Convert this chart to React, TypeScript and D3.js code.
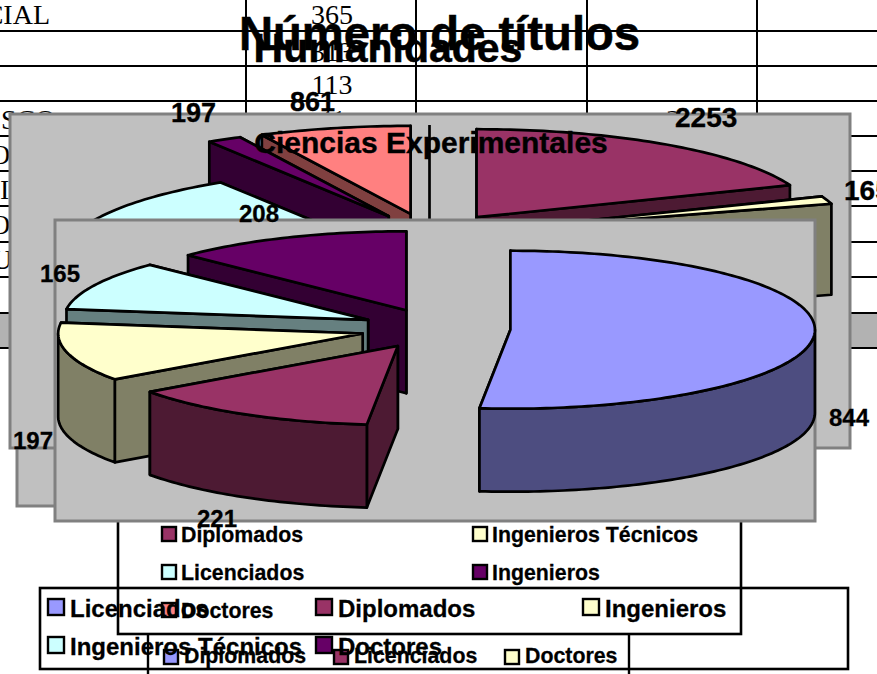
import React from "react";
import * as d3 from "d3";

// ---- data ----
const frontCategories = ["Licenciados", "Diplomados", "Ingenieros", "Ingenieros Técnicos", "Doctores"];
const frontValues = [844, 221, 197, 165, 208];
const frontColors = ["#9999FF", "#993366", "#FFFFCC", "#CCFFFF", "#660066"];

const middleCategories = ["Diplomados", "Ingenieros Técnicos", "Licenciados", "Ingenieros", "Doctores"];
const middleValues = [2253, 165, 8344, 197, 861];
const middleColors = ["#993366", "#FFFFCC", "#CCFFFF", "#660066", "#FF8080"];

const backCategories = ["Diplomados", "Licenciados", "Doctores"];
const backColors = ["#9999FF", "#993366", "#FFFFCC"];

const tableRowLines = [31, 66, 101, 136, 171, 206, 242, 277, 313, 348];
const tableColLines = [246, 416, 587, 757];
const tableNumbers = ["365", "313", "113", "41"];

const FONT = "'Liberation Sans', Arial, sans-serif";
const SERIF = "'Liberation Serif', 'Times New Roman', serif";
const TAU = Math.PI * 2;

type Geo = { cx: number; cy: number; rx: number; ry: number; depth: number; ex: number; ey: number };

const frontGeo: Geo = { cx: 435.5, cy: 328.7, rx: 304.5, ry: 79, depth: 83, ex: 75, ey: 20 };
const middleGeo: Geo = { cx: 429.5, cy: 235.8, rx: 336.5, ry: 88, depth: 91, ex: 83.5, ey: 22.5 };

function darken(c: string) {
  const r = d3.rgb(c);
  return d3.rgb(r.r / 2, r.g / 2, r.b / 2).formatHex();
}

function Pie3D({ values, colors, geo }: { values: number[]; colors: string[]; geo: Geo }) {
  const arcs = d3.pie<number>().sort(null).value((d) => d)(values);
  const line = d3.line();
  const slices = arcs
    .map((a, i) => {
      const mid = (a.startAngle + a.endAngle) / 2;
      const ax = geo.cx + geo.ex * Math.sin(mid);
      const ay = geo.cy - geo.ey * Math.cos(mid);
      const pt = (t: number, drop = 0): [number, number] => [
        ax + geo.rx * Math.sin(t),
        ay - geo.ry * Math.cos(t) + drop,
      ];
      return { a, i, ax, ay, pt };
    })
    .sort((p, q) => p.ay - q.ay);

  const stroke = { stroke: "#000", strokeWidth: 2.7, strokeLinejoin: "round" as const };

  return (
    <g>
      {slices.map(({ a, i, ax, ay, pt }) => {
        const color = colors[i];
        const dark = darken(color);
        const n = Math.max(2, Math.ceil((a.endAngle - a.startAngle) / 0.02));
        const ts = d3.range(n + 1).map((k) => a.startAngle + ((a.endAngle - a.startAngle) * k) / n);
        const top = line([[ax, ay], ...ts.map((t) => pt(t))]) + "Z";
        const wall = (t: number) =>
          line([[ax, ay], pt(t), pt(t, geo.depth), [ax, ay + geo.depth]]) + "Z";
        const radial = [a.startAngle, a.endAngle].sort((u, v) => pt(u)[1] - pt(v)[1]);
        const lo = Math.max(a.startAngle, Math.PI / 2);
        const hi = Math.min(a.endAngle, (Math.PI * 3) / 2);
        let outer: string | null = null;
        if (hi > lo) {
          const m = Math.max(2, Math.ceil((hi - lo) / 0.02));
          const os = d3.range(m + 1).map((k) => lo + ((hi - lo) * k) / m);
          outer =
            line([...os.map((t) => pt(t)), ...os.slice().reverse().map((t) => pt(t, geo.depth))]) + "Z";
        }
        return (
          <g key={i}>
            {radial.map((t, k) => (
              <path key={k} d={wall(t % TAU === 0 ? TAU : t)} fill={dark} {...stroke} />
            ))}
            {outer && <path d={outer} fill={dark} {...stroke} />}
            <path d={top} fill={color} {...stroke} />
          </g>
        );
      })}
    </g>
  );
}

function Panel({ x, y, w, h }: { x: number; y: number; w: number; h: number }) {
  return <rect x={x} y={y} width={w} height={h} fill="#C0C0C0" stroke="#808080" strokeWidth={3} />;
}

function Swatch({ x, y, s, fill }: { x: number; y: number; s: number; fill: string }) {
  return <rect x={x} y={y} width={s} height={s} fill={fill} stroke="#000" strokeWidth={2.4} />;
}

function Bold({ x, y, size, children, anchor }: any) {
  return (
    <text
      x={x}
      y={y}
      fontFamily={FONT}
      fontWeight="bold"
      fontSize={size}
      fill="#000"
      stroke="#000"
      strokeWidth={size * 0.012}
      textAnchor={anchor ?? "start"}
    >
      {children}
    </text>
  );
}

function Serif({ x, y, children, anchor }: any) {
  return (
    <text x={x} y={y} fontFamily={SERIF} fontSize={28} fill="#000" textAnchor={anchor ?? "start"}>
      {children}
    </text>
  );
}

export default function App() {
  const colX = d3.scaleOrdinal<number, number>().domain([0, 1, 2]).range([164, 334, 505]);
  const bCol = [162, 473];
  const bRow = [527, 565, 603];
  const aCol = [48, 316, 583];
  const aRow = [599, 637];

  const legendBItems = [0, 1, 2, 3, 4].map((i) => ({
    label: middleCategories[i],
    color: middleColors[i],
    x: bCol[i % 2],
    y: bRow[Math.floor(i / 2)],
  }));
  const legendAItems = [
    { i: 0, c: 0, r: 0 },
    { i: 1, c: 1, r: 0 },
    { i: 2, c: 2, r: 0 },
    { i: 3, c: 0, r: 1 },
    { i: 4, c: 1, r: 1 },
  ];

  return (
    <svg
      width={877}
      height={674}
      viewBox="0 0 877 674"
      style={{ position: "absolute", left: 0, top: 0, display: "block", background: "#fff" }}
    >
      {/* underlying table */}
      <rect x={0} y={313} width={877} height={35} fill="#B2B2B2" />
      {tableRowLines.map((y) => (
        <line key={y} x1={0} x2={877} y1={y} y2={y} stroke="#000" strokeWidth={2} />
      ))}
      {tableColLines.map((x) => (
        <line key={x} x1={x} x2={x} y1={0} y2={313} stroke="#000" strokeWidth={2} />
      ))}
      <Serif x={50} y={24} anchor="end">CIAL</Serif>
      <Serif x={1} y={129}>SCO</Serif>
      <Serif x={-10} y={164}>O</Serif>
      <Serif x={0} y={199}>I</Serif>
      <Serif x={-10} y={234}>O</Serif>
      <Serif x={-8} y={269}>U</Serif>
      {tableNumbers.map((t, i) => (
        <Serif key={t} x={332} y={[24, 61, 94, 129][i]} anchor="middle">{t}</Serif>
      ))}
      <Serif x={666} y={129}>3</Serif>

      {/* legend behind everything */}
      <rect x={148} y={620} width={481} height={80} fill="#fff" stroke="#000" strokeWidth={2.4} />
      {backCategories.map((c, i) => (
        <g key={c}>
          <Swatch x={colX(i)} y={650} s={14} fill={backColors[i]} />
          <Bold x={colX(i) + 20} y={663} size={21.33}>{c}</Bold>
        </g>
      ))}

      {/* middle legend */}
      <rect x={118} y={500} width={623} height={134} fill="#fff" stroke="#000" strokeWidth={2.6} />
      {legendBItems.map((d) => (
        <g key={d.label}>
          <Swatch x={d.x} y={d.y} s={14} fill={d.color} />
          <Bold x={d.x + 19} y={d.y + 15} size={21.33}>{d.label}</Bold>
        </g>
      ))}

      {/* Humanidades plot area, mostly hidden */}
      <Panel x={17} y={300} w={790} h={206} />
      <Bold x={388} y={62} size={41} anchor="middle">Humanidades</Bold>

      {/* Ciencias Experimentales */}
      <Panel x={10} y={114} w={840} h={334} />
      <line x1={429.5} x2={429.5} y1={125} y2={220} stroke="#000" strokeWidth={2.7} />
      <Pie3D values={middleValues} colors={middleColors} geo={middleGeo} />
      <Bold x={431} y={153} size={30} anchor="middle">Ciencias Experimentales</Bold>
      <Bold x={675} y={127} size={28}>{middleValues[0]}</Bold>
      <Bold x={844} y={200} size={28}>{middleValues[1]}</Bold>
      <Bold x={171} y={122} size={27}>{middleValues[3]}</Bold>
      <Bold x={290} y={111} size={27}>{middleValues[4]}</Bold>

      {/* front chart */}
      <Panel x={55} y={220} w={760} h={301} />
      <Pie3D values={frontValues} colors={frontColors} geo={frontGeo} />
      <Bold x={829} y={426} size={24}>{frontValues[0]}</Bold>
      <Bold x={197} y={527} size={24}>{frontValues[1]}</Bold>
      <Bold x={13} y={449} size={24}>{frontValues[2]}</Bold>
      <Bold x={40} y={282} size={24}>{frontValues[3]}</Bold>
      <Bold x={239} y={222} size={24}>{frontValues[4]}</Bold>

      <Bold x={439.5} y={50} size={47.2} anchor="middle">Número de títulos</Bold>

      {/* front legend */}
      <rect x={40} y={588} width={808} height={81} fill="none" stroke="#000" strokeWidth={2.6} />
      {legendAItems.map(({ i, c, r }) => (
        <g key={i}>
          <Swatch x={aCol[c]} y={aRow[r]} s={16} fill={frontColors[i]} />
          <Bold x={aCol[c] + 22} y={aRow[r] + 18} size={24}>{frontCategories[i]}</Bold>
        </g>
      ))}
    </svg>
  );
}
